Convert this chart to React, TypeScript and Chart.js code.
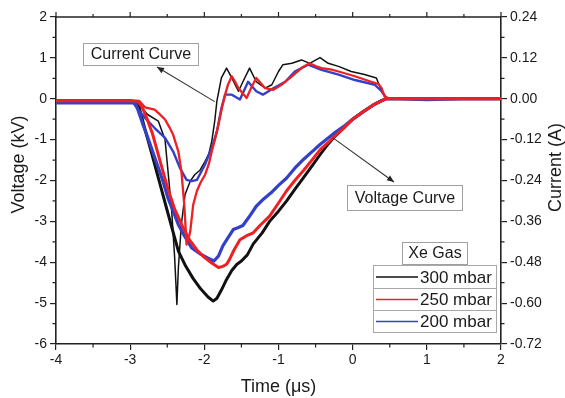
import React, { useEffect, useRef } from "react";
import { Chart, registerables } from "chart.js";
Chart.register(...registerables);

// ---------- axes ----------
const timeTicks = [-4, -3, -2, -1, 0, 1, 2];
const voltageTicks = [2, 1, 0, -1, -2, -3, -4, -5, -6];
const currentTicks = [0.24, 0.12, 0, -0.12, -0.24, -0.36, -0.48, -0.6, -0.72];

const seriesLabels = ["300 mbar", "250 mbar", "200 mbar"];

// ---------- voltage curves (kV) ----------
const v300Time = [-4, -3.5, -3.0, -2.92, -2.87, -2.8, -2.7, -2.6, -2.5, -2.42, -2.35, -2.25, -2.15, -2.05, -1.95, -1.88, -1.83, -1.77, -1.7, -1.63, -1.56, -1.5, -1.42, -1.34, -1.22, -1.12, -1.0, -0.89, -0.78, -0.67, -0.55, -0.44, -0.35, -0.26, -0.13, 0.0, 0.14, 0.28, 0.38, 0.45, 0.6, 1.0, 1.5, 2.0];
const v300Volt = [-0.05, -0.05, -0.05, -0.08, -0.27, -0.75, -1.4, -2.07, -2.74, -3.27, -3.73, -4.1, -4.4, -4.65, -4.85, -4.95, -4.88, -4.68, -4.42, -4.2, -4.05, -3.97, -3.82, -3.55, -3.28, -3.0, -2.75, -2.5, -2.22, -1.95, -1.65, -1.37, -1.15, -0.96, -0.73, -0.5, -0.32, -0.15, -0.06, 0.0, 0.0, 0.0, 0.0, 0.0];

const v250Time = [-4, -3.5, -3.0, -2.9, -2.84, -2.78, -2.7, -2.6, -2.5, -2.4, -2.3, -2.2, -2.1, -2.0, -1.9, -1.81, -1.75, -1.7, -1.66, -1.6, -1.52, -1.43, -1.34, -1.25, -1.12, -1.0, -0.89, -0.78, -0.66, -0.55, -0.44, -0.33, -0.22, -0.1, 0.0, 0.14, 0.28, 0.38, 0.45, 0.6, 1.0, 1.5, 2.0];
const v250Volt = [-0.05, -0.05, -0.05, -0.06, -0.2, -0.45, -0.85, -1.5, -2.15, -2.7, -3.1, -3.45, -3.7, -3.88, -4.02, -4.13, -4.1, -4.05, -3.93, -3.7, -3.45, -3.35, -3.28, -3.1, -2.87, -2.55, -2.25, -2.0, -1.75, -1.5, -1.25, -1.07, -0.88, -0.68, -0.5, -0.32, -0.15, -0.06, 0.0, 0.0, 0.0, 0.0, 0.0];

const v200Time = [-4, -3.5, -3.0, -2.93, -2.89, -2.83, -2.76, -2.69, -2.62, -2.55, -2.49, -2.42, -2.35, -2.26, -2.17, -2.05, -1.95, -1.87, -1.81, -1.75, -1.68, -1.61, -1.54, -1.48, -1.4, -1.3, -1.2, -1.1, -1.0, -0.89, -0.78, -0.66, -0.55, -0.44, -0.33, -0.22, -0.1, 0.0, 0.14, 0.28, 0.38, 0.46, 0.6, 1.0, 1.5, 2.0];
const v200Volt = [-0.1, -0.1, -0.1, -0.1, -0.3, -0.62, -0.96, -1.33, -1.69, -2.06, -2.43, -2.75, -3.08, -3.38, -3.65, -3.8, -3.9, -3.97, -3.85, -3.6, -3.4, -3.2, -3.15, -3.1, -2.9, -2.63, -2.45, -2.3, -2.12, -1.94, -1.7, -1.48, -1.3, -1.12, -0.96, -0.8, -0.65, -0.5, -0.32, -0.15, -0.05, 0.0, 0.0, -0.02, 0.0, 0.0];

// ---------- current curves (A) ----------
const i300Time = [-4, -3.5, -3.0, -2.92, -2.86, -2.76, -2.62, -2.53, -2.49, -2.44, -2.4, -2.37, -2.35, -2.31, -2.26, -2.19, -2.13, -2.06, -1.99, -1.94, -1.9, -1.86, -1.83, -1.77, -1.7, -1.63, -1.54, -1.48, -1.39, -1.3, -1.18, -1.09, -1.0, -0.94, -0.82, -0.69, -0.58, -0.44, -0.33, -0.19, -0.02, 0.16, 0.32, 0.39, 0.46, 0.6, 1.0, 1.5, 2.0];
const i300Curr = [-0.006, -0.006, -0.006, -0.006, -0.024, -0.047, -0.066, -0.12, -0.212, -0.33, -0.467, -0.604, -0.496, -0.37, -0.281, -0.242, -0.223, -0.21, -0.184, -0.162, -0.125, -0.066, -0.006, 0.061, 0.09, 0.061, 0.022, 0.05, 0.09, 0.05, 0.031, 0.041, 0.08, 0.1, 0.104, 0.114, 0.104, 0.121, 0.104, 0.095, 0.08, 0.071, 0.061, 0.022, 0.002, 0, 0, 0, 0];

const i250Time = [-4, -3.5, -3.0, -2.88, -2.8, -2.67, -2.6, -2.53, -2.47, -2.42, -2.35, -2.31, -2.27, -2.24, -2.21, -2.19, -2.15, -2.1, -2.05, -1.99, -1.94, -1.9, -1.85, -1.81, -1.76, -1.72, -1.68, -1.63, -1.58, -1.54, -1.43, -1.36, -1.3, -1.24, -1.18, -1.07, -0.96, -0.82, -0.69, -0.58, -0.5, -0.42, -0.3, -0.19, 0.03, 0.25, 0.35, 0.39, 0.43, 0.5, 1.0, 1.5, 2.0];
const i250Curr = [-0.006, -0.006, -0.006, -0.006, -0.025, -0.032, -0.046, -0.061, -0.084, -0.106, -0.155, -0.212, -0.312, -0.428, -0.408, -0.389, -0.311, -0.271, -0.246, -0.223, -0.192, -0.155, -0.114, -0.076, -0.024, 0.012, 0.042, 0.066, 0.048, 0.031, 0.002, 0.036, 0.061, 0.046, 0.031, 0.026, 0.041, 0.066, 0.09, 0.104, 0.096, 0.09, 0.086, 0.08, 0.066, 0.05, 0.043, 0.031, 0.007, 0, 0, 0, 0];

const i200Time = [-4, -3.5, -3.0, -2.96, -2.89, -2.8, -2.67, -2.53, -2.42, -2.33, -2.24, -2.17, -2.1, -1.99, -1.9, -1.83, -1.77, -1.72, -1.63, -1.52, -1.41, -1.3, -1.21, -1.07, -0.91, -0.78, -0.6, -0.42, -0.19, 0.03, 0.3, 0.39, 0.46, 0.6, 1.0, 1.5, 2.0];
const i200Curr = [-0.012, -0.012, -0.012, -0.012, -0.032, -0.056, -0.086, -0.115, -0.155, -0.203, -0.238, -0.242, -0.238, -0.193, -0.144, -0.096, -0.028, 0.012, 0.012, -0.002, 0.05, 0.022, 0.012, 0.031, 0.05, 0.08, 0.1, 0.085, 0.071, 0.055, 0.041, 0.022, 0, 0, 0, 0, 0];

// ---------- styles ----------
const COLORS = ["#111111", "rgb(238,32,36)", "rgb(52,64,200)"];
const FONT = '"Liberation Sans", Arial, Helvetica, sans-serif';
const AXIS = "#222222";

const pts = (xs: number[], ys: number[]) => xs.map((x, i) => ({ x, y: ys[i] }));

const decor = {
  id: "decor",
  afterDraw(chart: any) {
    const { ctx, chartArea: a, scales } = chart;
    const sx = scales.x, sy = scales.y, sy1 = scales.y1;
    ctx.save();
    ctx.strokeStyle = AXIS;
    ctx.lineWidth = 1.5;
    ctx.beginPath();
    ctx.moveTo(a.left, a.top);
    ctx.lineTo(a.right, a.top);
    ctx.stroke();

    ctx.lineWidth = 1.2;
    ctx.beginPath();
    for (let i = 0; i < timeTicks.length - 1; i++) {
      const m = sx.getPixelForValue((timeTicks[i] + timeTicks[i + 1]) / 2);
      ctx.moveTo(m, a.bottom); ctx.lineTo(m, a.bottom + 3.5);
      ctx.moveTo(m, a.top); ctx.lineTo(m, a.top - 3);
    }
    for (let i = 0; i < timeTicks.length; i++) {
      const p = sx.getPixelForValue(timeTicks[i]);
      ctx.moveTo(p, a.top); ctx.lineTo(p, a.top - 5);
    }
    for (let i = 0; i < voltageTicks.length - 1; i++) {
      const m = sy.getPixelForValue((voltageTicks[i] + voltageTicks[i + 1]) / 2);
      ctx.moveTo(a.left, m); ctx.lineTo(a.left - 3.5, m);
    }
    for (let i = 0; i < currentTicks.length - 1; i++) {
      const m = sy1.getPixelForValue((currentTicks[i] + currentTicks[i + 1]) / 2);
      ctx.moveTo(a.right, m); ctx.lineTo(a.right + 3.5, m);
    }
    ctx.stroke();

    // axis titles
    ctx.fillStyle = "#1a1a1a";
    ctx.font = `18px ${FONT}`;
    ctx.textAlign = "center";
    ctx.textBaseline = "middle";
    ctx.fillText("Time (\u03bcs)", (a.left + a.right) / 2, 387);
    ctx.save();
    ctx.translate(19, (a.top + a.bottom) / 2 - 16);
    ctx.rotate(-Math.PI / 2);
    ctx.fillText("Voltage (kV)", 0, 0);
    ctx.restore();
    ctx.save();
    ctx.translate(556, (a.top + a.bottom) / 2 - 13);
    ctx.rotate(-Math.PI / 2);
    ctx.fillText("Current (A)", 0, 0);
    ctx.restore();

    // annotation helper
    const box = (text: string, x: number, y: number, w: number, h: number) => {
      ctx.fillStyle = "#ffffff";
      ctx.fillRect(x, y, w, h);
      ctx.strokeStyle = "#a0a0a0";
      ctx.lineWidth = 1;
      ctx.strokeRect(x + 0.5, y + 0.5, w, h);
      ctx.fillStyle = "#1a1a1a";
      ctx.font = `16px ${FONT}`;
      ctx.textAlign = "center";
      ctx.textBaseline = "middle";
      ctx.fillText(text, x + w / 2 + 0.5, y + h / 2 + 1);
    };
    const arrow = (x1: number, y1: number, x2: number, y2: number) => {
      ctx.strokeStyle = "#333";
      ctx.fillStyle = "#222";
      ctx.lineWidth = 1.1;
      ctx.beginPath();
      ctx.moveTo(x1, y1);
      ctx.lineTo(x2, y2);
      ctx.stroke();
      const ang = Math.atan2(y2 - y1, x2 - x1);
      const L = 7, W = 3;
      ctx.beginPath();
      ctx.moveTo(x2, y2);
      ctx.lineTo(x2 - L * Math.cos(ang) + W * Math.sin(ang), y2 - L * Math.sin(ang) - W * Math.cos(ang));
      ctx.lineTo(x2 - L * Math.cos(ang) - W * Math.sin(ang), y2 - L * Math.sin(ang) + W * Math.cos(ang));
      ctx.closePath();
      ctx.fill();
    };
    arrow(sx.getPixelForValue(-1.86), sy.getPixelForValue(-0.07), 157, 67);
    box("Current Curve", 83, 43, 115, 22);
    arrow(sx.getPixelForValue(-0.27), sy.getPixelForValue(-0.95), 394, 182);
    box("Voltage Curve", 347, 185, 115, 25);

    // legend
    box("Xe Gas", 402, 242, 65, 22);
    const rowTop = [265, 288, 310];
    const rowH = [23, 22, 22];
    for (let i = 0; i < 3; i++) {
      ctx.fillStyle = "#ffffff";
      ctx.fillRect(373, rowTop[i], 123, rowH[i]);
      ctx.strokeStyle = "#a8a8a8";
      ctx.lineWidth = 1;
      ctx.strokeRect(373.5, rowTop[i] + 0.5, 123, rowH[i]);
      const cy = rowTop[i] + rowH[i] / 2 + 0.5;
      ctx.strokeStyle = COLORS[i];
      ctx.lineWidth = 1.6;
      ctx.beginPath();
      ctx.moveTo(376, cy);
      ctx.lineTo(418, cy);
      ctx.stroke();
      ctx.fillStyle = "#1a1a1a";
      ctx.font = `17px ${FONT}`;
      ctx.textAlign = "left";
      ctx.textBaseline = "middle";
      ctx.fillText(seriesLabels[i], 420, cy + 1);
    }
    ctx.restore();
  },
};

export default function App() {
  const ref = useRef<HTMLCanvasElement | null>(null);
  useEffect(() => {
    if (!ref.current) return;
    const mk = (label: string, xs: number[], ys: number[], color: string, axis: string, width: number, order: number) => ({
      label,
      data: pts(xs, ys),
      borderColor: color,
      backgroundColor: color,
      borderWidth: width,
      yAxisID: axis,
      pointRadius: 0,
      tension: 0,
      fill: false,
      order,
      borderJoinStyle: "round" as const,
    });
    const tickFont = { family: FONT, size: 14 };
    const grid = { display: true, drawOnChartArea: false, drawTicks: true, tickLength: 6, color: AXIS, lineWidth: 1.2 };
    const border = { display: true, color: AXIS, width: 1.6 };
    const chart = new Chart(ref.current, {
      type: "line",
      data: {
        datasets: [
          mk(seriesLabels[0] + " V", v300Time, v300Volt, COLORS[0], "y", 3, 6),
          mk(seriesLabels[0] + " I", i300Time, i300Curr, COLORS[0], "y1", 1.5, 5),
          mk(seriesLabels[2] + " V", v200Time, v200Volt, COLORS[2], "y", 3.2, 4),
          mk(seriesLabels[2] + " I", i200Time, i200Curr, COLORS[2], "y1", 2.4, 3),
          mk(seriesLabels[1] + " V", v250Time, v250Volt, COLORS[1], "y", 3, 2),
          mk(seriesLabels[1] + " I", i250Time, i250Curr, COLORS[1], "y1", 2.3, 1),
        ],
      },
      options: {
        responsive: false,
        animation: false,
        devicePixelRatio: 1,
        layout: { padding: { top: 17, left: 0, right: 0, bottom: 0 } },
        plugins: { legend: { display: false }, tooltip: { enabled: false } },
        scales: {
          x: {
            type: "linear",
            position: "bottom",
            min: -4,
            max: 2,
            afterBuildTicks: (s: any) => { s.ticks = timeTicks.map((v) => ({ value: v })); },
            afterFit: (s: any) => { s.height = 54; },
            grid,
            border,
            ticks: { color: "#1a1a1a", font: tickFont, padding: 2, maxRotation: 0, callback: (v: any) => String(v) },
          },
          y: {
            type: "linear",
            position: "left",
            min: -6,
            max: 2,
            afterBuildTicks: (s: any) => { s.ticks = voltageTicks.map((v) => ({ value: v })); },
            afterFit: (s: any) => { s.width = 56; },
            grid,
            border,
            ticks: { color: "#1a1a1a", font: tickFont, padding: 3, callback: (v: any) => String(v) },
          },
          y1: {
            type: "linear",
            position: "right",
            min: -0.72,
            max: 0.24,
            afterBuildTicks: (s: any) => { s.ticks = currentTicks.map((v) => ({ value: v })); },
            afterFit: (s: any) => { s.width = 64; },
            grid,
            border,
            ticks: { color: "#1a1a1a", font: tickFont, padding: 3, callback: (v: any) => Number(v).toFixed(2) },
          },
        },
      },
      plugins: [decor],
    } as any);
    return () => chart.destroy();
  }, []);
  return (
    <div style={{ position: "absolute", left: 0, top: 0, width: 565, height: 398, background: "#fff" }}>
      <canvas ref={ref} width={565} height={398} style={{ width: 565, height: 398, display: "block" }} />
    </div>
  );
}
